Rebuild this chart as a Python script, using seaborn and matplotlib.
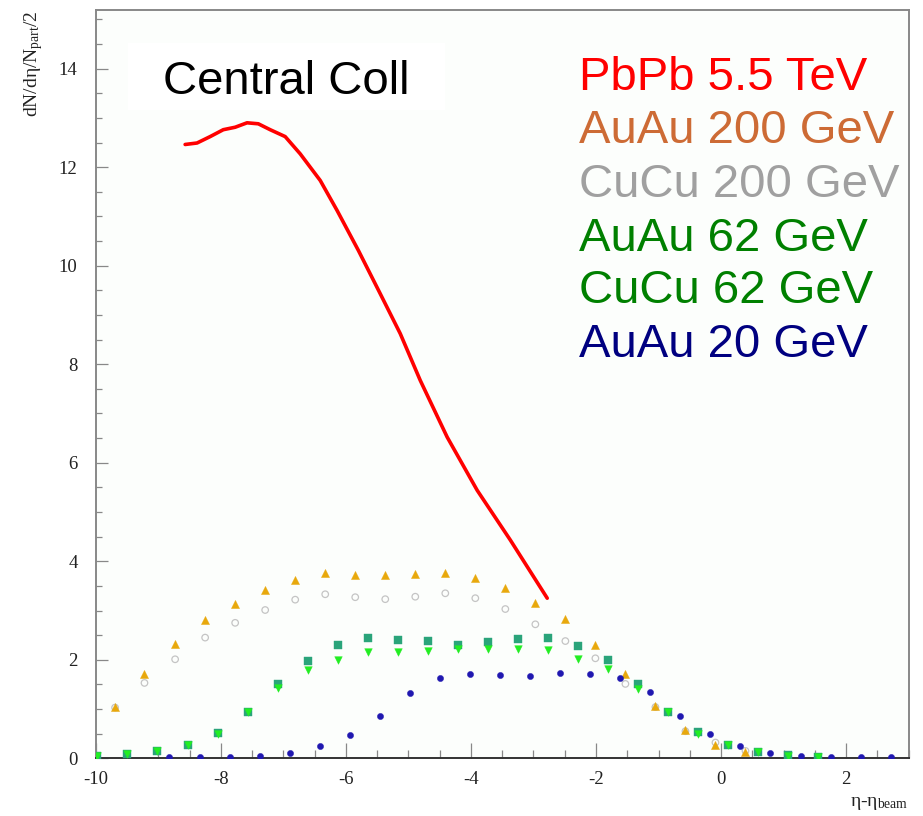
import matplotlib
matplotlib.use("Agg")
import matplotlib.pyplot as plt
from matplotlib.ticker import MultipleLocator
from matplotlib.patches import Rectangle
import seaborn as sns

# ---------------- data ----------------
pbpb55_x = [-8.57, -8.38, -8.17, -7.96, -7.77, -7.58, -7.40, -7.21, -6.97, -6.73,
            -6.41, -6.14, -5.80, -5.45, -5.13, -4.81, -4.38, -3.90, -3.37, -2.78]
pbpb55_y = [12.46, 12.49, 12.62, 12.76, 12.81, 12.90, 12.88, 12.76, 12.62, 12.27,
            11.73, 11.12, 10.31, 9.43, 8.62, 7.67, 6.52, 5.44, 4.43, 3.25]

x200 = [-9.69, -9.22, -8.73, -8.25, -7.77, -7.29, -6.81, -6.33, -5.85, -5.37, -4.89,
        -4.41, -3.93, -3.45, -2.97, -2.49, -2.01, -1.53, -1.05, -0.57, -0.09, 0.39]
auau200_y = [1.05, 1.72, 2.32, 2.81, 3.13, 3.41, 3.62, 3.77, 3.73, 3.72, 3.75,
             3.77, 3.67, 3.45, 3.16, 2.82, 2.31, 1.72, 1.06, 0.57, 0.27, 0.12]
cucu200_y = [1.03, 1.53, 2.01, 2.45, 2.75, 3.01, 3.22, 3.33, 3.27, 3.23, 3.28,
             3.35, 3.25, 3.03, 2.72, 2.38, 2.03, 1.51, 1.04, 0.55, 0.32, 0.15]

x62 = [-9.98, -9.50, -9.02, -8.53, -8.05, -7.57, -7.09, -6.61, -6.13, -5.65, -5.17, -4.69, -4.21,
       -3.73, -3.25, -2.77, -2.29, -1.81, -1.33, -0.85, -0.37, 0.11, 0.59, 1.07, 1.55]
auau62_y = [0.05, 0.08, 0.15, 0.26, 0.52, 0.93, 1.51, 1.98, 2.31, 2.45, 2.41, 2.39, 2.30,
            2.37, 2.42, 2.45, 2.28, 1.99, 1.51, 0.95, 0.54, 0.27, 0.13, 0.07, 0.03]
cucu62_y = [0.05, 0.08, 0.14, 0.27, 0.50, 0.93, 1.42, 1.79, 1.99, 2.16, 2.16, 2.18, 2.21,
            2.22, 2.21, 2.20, 2.01, 1.82, 1.41, 0.93, 0.49, 0.26, 0.12, 0.05, 0.03]

x20 = [-8.82, -8.34, -7.86, -7.38, -6.90, -6.42, -5.94, -5.46, -4.98, -4.50, -4.02, -3.54, -3.06,
       -2.58, -2.10, -1.62, -1.14, -0.65, -0.17, 0.31, 0.79, 1.27, 1.75, 2.24, 2.71]
auau20_y = [0.02, 0.02, 0.03, 0.05, 0.11, 0.24, 0.47, 0.86, 1.33, 1.64, 1.72, 1.70, 1.68,
            1.73, 1.72, 1.64, 1.34, 0.86, 0.49, 0.24, 0.11, 0.05, 0.02, 0.02, 0.02]

legend_labels = ["PbPb 5.5 TeV", "AuAu 200 GeV", "CuCu 200 GeV",
                 "AuAu 62 GeV", "CuCu 62 GeV", "AuAu 20 GeV"]
legend_colors = ["#ff0000", "#cd6b35", "#a0a0a0", "#008000", "#008000", "#000080"]

x_ticks = [-10, -8, -6, -4, -2, 0, 2]
y_ticks = [0, 2, 4, 6, 8, 10, 12, 14]

# ---------------- figure ----------------
sns.set_style("white")
plt.rcParams["mathtext.fontset"] = "custom"
plt.rcParams["mathtext.rm"] = "Liberation Serif"
plt.rcParams["mathtext.it"] = "Liberation Serif:italic"

W, H = 923, 816
fig = plt.figure(figsize=(W / 100, H / 100), dpi=100)
fig.patch.set_facecolor("white")
ax_l, ax_r, ax_t, ax_b = 95.7, 908.7, 9.5, 758.3
ax = fig.add_axes([ax_l / W, 1 - ax_b / H, (ax_r - ax_l) / W, (ax_b - ax_t) / H])
ax.set_facecolor("#fcfefc")

# series
sns.scatterplot(x=x200, y=cucu200_y, marker="o", s=22, facecolors="none",
                edgecolor="#c4c4c4", linewidth=0.9, ax=ax, zorder=3)
sns.scatterplot(x=x200, y=auau200_y, marker="^", s=34, color="#e8a80c",
                edgecolor="#e8a80c", linewidth=0.3, ax=ax, zorder=4)
sns.scatterplot(x=x62, y=auau62_y, marker="s", s=26, color="#2aa47a",
                edgecolor="#2aa47a", linewidth=0.3, ax=ax, zorder=4)
sns.scatterplot(x=x62, y=cucu62_y, marker="v", s=30, color="#22ee22",
                edgecolor="#22ee22", linewidth=0.3, ax=ax, zorder=5)
sns.scatterplot(x=x20, y=auau20_y, marker="o", s=20, color="#2018b0",
                edgecolor="#2018b0", linewidth=0.3, ax=ax, zorder=5)
sns.lineplot(x=pbpb55_x, y=pbpb55_y, sort=False, color="#ff0000", linewidth=2.6,
             ax=ax, zorder=6)

ax.set_xlim(-10, 3)
ax.set_ylim(0, 15.2)
ax.set_xticks(x_ticks)
ax.set_yticks(y_ticks)
ax.set_xticklabels([str(v) for v in x_ticks])
ax.set_yticklabels([str(v) for v in y_ticks])
ax.xaxis.set_minor_locator(MultipleLocator(0.5))
ax.yaxis.set_minor_locator(MultipleLocator(0.5))
ax.tick_params(axis="x", which="major", direction="in", length=11, width=0.9,
               color="#888888", pad=9, labelsize=13.5, bottom=True)
ax.tick_params(axis="x", which="minor", direction="in", length=5.5, width=0.9,
               color="#888888", bottom=True)
ax.tick_params(axis="y", which="major", direction="in", length=8.5, width=0.9,
               color="#888888", pad=13, labelsize=13.5, left=True)
ax.tick_params(axis="y", which="minor", direction="in", length=4.5, width=0.9,
               color="#888888", left=True)
for lab in ax.get_xticklabels() + ax.get_yticklabels():
    lab.set_fontfamily("Liberation Serif")
    lab.set_color("#222222")
for side in ["top", "right", "left"]:
    ax.spines[side].set_color("#888888")
    ax.spines[side].set_linewidth(1.4)
ax.spines["bottom"].set_color("#333333")
ax.spines["bottom"].set_linewidth(1.4)
ax.set_xlabel("")
ax.set_ylabel("")

# "Central Coll" box
ax.add_patch(Rectangle(((128 - ax_l) / (ax_r - ax_l), (ax_b - 110) / (ax_b - ax_t)),
                       (445 - 128) / (ax_r - ax_l), (110 - 43) / (ax_b - ax_t),
                       transform=ax.transAxes, facecolor="white", edgecolor="none", zorder=2))
fig.text(286.5 / W, 1 - 94 / H, "Central Coll", fontsize=34, family="Liberation Sans",
         color="black", ha="center", va="baseline")

# legend-like labels
baselines = [90, 143, 197, 251, 303, 357]
for lab, col, b in zip(legend_labels, legend_colors, baselines):
    fig.text(579 / W, 1 - b / H, lab, fontsize=34, family="Liberation Sans",
             color=col, ha="left", va="baseline")

# axis titles
fig.text(34 / W, 1 - 10 / H, r"dN/dη/N$_{\rm part}$/2", rotation=90, fontsize=14,
         family="Liberation Serif", color="#222222", ha="center", va="top")
fig.text(908 / W, 1 - 806 / H, r"η-η$_{\rm beam}$", fontsize=14,
         family="Liberation Serif", color="#222222", ha="right", va="baseline")

fig.savefig("out.png", dpi=100)
